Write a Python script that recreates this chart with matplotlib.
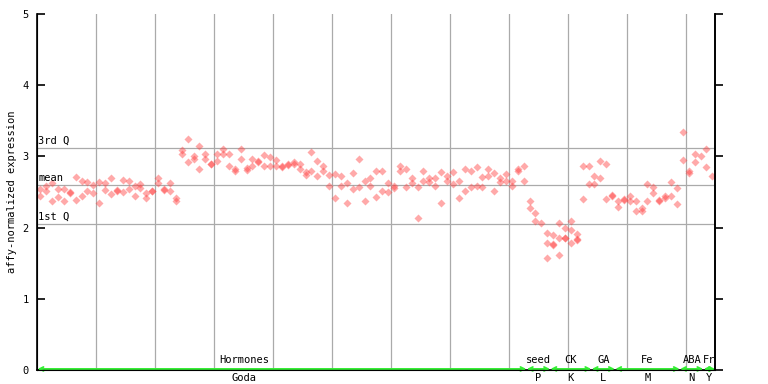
import numpy as np
import matplotlib
matplotlib.use("Agg")
import matplotlib.pyplot as plt
import matplotlib.transforms as mtransforms

# replicate values per sample (left to right)
expr = [
    [2.54, 2.45], [2.58, 2.52], [2.62, 2.37], [2.54, 2.43], [2.54, 2.37],
    [2.50, 2.48], [2.71, 2.39], [2.66, 2.45], [2.64, 2.52], [2.60, 2.48],
    [2.64, 2.34], [2.62, 2.53], [2.70, 2.47], [2.53, 2.52], [2.67, 2.50],
    [2.66, 2.54], [2.58, 2.45], [2.61, 2.55], [2.49, 2.42], [2.52, 2.51],
    [2.70, 2.62], [2.54, 2.53], [2.62, 2.51], [2.41, 2.38], [3.09, 3.03],
    [3.25, 2.92], [3.01, 2.97], [3.14, 2.83], [3.03, 2.97], [2.90, 2.89],
    [3.03, 2.94], [3.11, 3.04], [3.04, 2.86], [2.83, 2.80], [3.11, 2.97],
    [2.84, 2.81], [2.97, 2.87], [2.93, 2.92], [3.02, 2.86], [2.99, 2.87],
    [2.95, 2.86], [2.86, 2.85], [2.89, 2.88], [2.92, 2.89], [2.90, 2.83],
    [2.78, 2.74], [3.06, 2.79], [2.94, 2.72], [2.86, 2.80], [2.74, 2.59],
    [2.75, 2.41], [2.72, 2.58], [2.62, 2.34], [2.76, 2.54], [2.97, 2.57],
    [2.65, 2.37], [2.69, 2.59], [2.80, 2.43], [2.80, 2.51], [2.62, 2.50],
    [2.59, 2.56], [2.87, 2.80], [2.82, 2.57], [2.70, 2.62], [2.57, 2.14],
    [2.79, 2.65], [2.69, 2.64], [2.69, 2.58], [2.78, 2.35], [2.72, 2.65],
    [2.78, 2.61], [2.65, 2.41], [2.83, 2.52], [2.79, 2.57], [2.85, 2.59],
    [2.71, 2.57], [2.83, 2.72], [2.76, 2.51], [2.69, 2.64], [2.75, 2.66],
    [2.66, 2.59], [2.83, 2.79], [2.86, 2.66],
    [2.37, 2.28], [2.20, 2.09], [2.06], [1.93, 1.79, 1.57],
    [1.89, 1.77, 1.76], [2.07, 1.86, 1.62], [2.00, 1.86, 1.85],
    [2.09, 1.96, 1.79], [1.91, 1.84, 1.83], [2.86, 2.40], [2.86, 2.61],
    [2.72, 2.61], [2.93, 2.69], [2.89, 2.40], [2.46, 2.45],
    [2.37, 2.29], [2.40, 2.39], [2.45, 2.37], [2.37, 2.23], [2.27, 2.24],
    [2.61, 2.38], [2.57, 2.49], [2.39, 2.38], [2.45, 2.41], [2.64, 2.44],
    [2.55, 2.33],
    [3.34, 2.95], [2.79, 2.76], [3.04, 2.92], [3.00],
    [3.11, 2.85], [2.73],
]

# experiment groups: (top label, bottom label, first sample, last sample)
group_top = ["Hormones", "seed", "CK", "GA", "Fe", "ABA", "Fr"]
group_bottom = ["Goda", "P", "K", "L", "M", "N", "Y"]
group_start = [0, 83, 87, 94, 98, 109, 113]
group_end = [82, 86, 93, 97, 108, 112, 114]

q1, mean_val, q3 = 2.05, 2.60, 3.12

mono = "DejaVu Sans Mono"
fig = plt.figure(figsize=(7.68, 3.84), dpi=100)
ax = fig.add_axes([37.3 / 768, 14 / 384, (715.3 - 37.3) / 768, 356 / 384])

n = len(expr)
ax.set_xlim(-0.5, n - 0.5)
ax.set_ylim(0, 5)

# vertical grid
for gx in np.arange(9.5, n - 0.5, 10):
    ax.axvline(gx, color="#aaaaaa", lw=0.9, zorder=1)
# quartile / mean lines
for val, lab in [(q3, "3rd Q"), (mean_val, "mean"), (q1, "1st Q")]:
    ax.axhline(val, color="#aaaaaa", lw=0.9, zorder=1)
    ax.text(-0.3, val + 0.03, lab, family=mono, fontsize=7.5, ha="left",
            va="bottom", zorder=3)

xs, ys = [], []
for i, vals in enumerate(expr):
    for v in vals:
        xs.append(i)
        ys.append(v)
ax.plot(xs, ys, ls="none", marker="D", ms=4.0, mfc="#ff4040", mec="none",
        alpha=0.45, zorder=2)

# group arrows and labels
blend = mtransforms.blended_transform_factory(ax.transData, ax.transAxes)
for top, bot, s, e in zip(group_top, group_bottom, group_start, group_end):
    ax.annotate("", xy=(e + 0.45, 0.003), xytext=(s - 0.45, 0.003),
                xycoords=blend, textcoords=blend,
                arrowprops=dict(arrowstyle="<->", color="#33ee33", lw=1.3,
                                mutation_scale=7, shrinkA=0, shrinkB=0),
                annotation_clip=False, zorder=4)
    cx = (s + e) / 2 if top != "Hormones" else 34.6
    ax.text(cx, 0.014, top, family=mono, fontsize=7.5, ha="center",
            va="bottom", transform=blend)
    ax.text(cx, -0.008, bot, family=mono, fontsize=7.5, ha="center",
            va="top", transform=blend, clip_on=False)

ax.spines["top"].set_visible(False)
for sp in ["left", "right", "bottom"]:
    ax.spines[sp].set_linewidth(1.2)
ax.set_xticks([])
ax.set_yticks(range(6))
ax.set_yticklabels([str(v) for v in range(6)], family=mono, fontsize=7.5)
ax.tick_params(axis="y", direction="in", length=6, width=1.2, left=True,
               right=False, pad=6)
ax2 = ax.twinx()
ax2.set_ylim(0, 5)
ax2.set_yticks(range(6))
ax2.set_yticklabels([])
ax2.tick_params(axis="y", direction="out", length=6, width=1.2)
ax2.spines["top"].set_visible(False)
ax2.spines["right"].set_linewidth(1.2)
ax.set_ylabel("affy-normalized expression", family=mono, fontsize=7.5,
              labelpad=4)

fig.savefig("out.png", dpi=100)
